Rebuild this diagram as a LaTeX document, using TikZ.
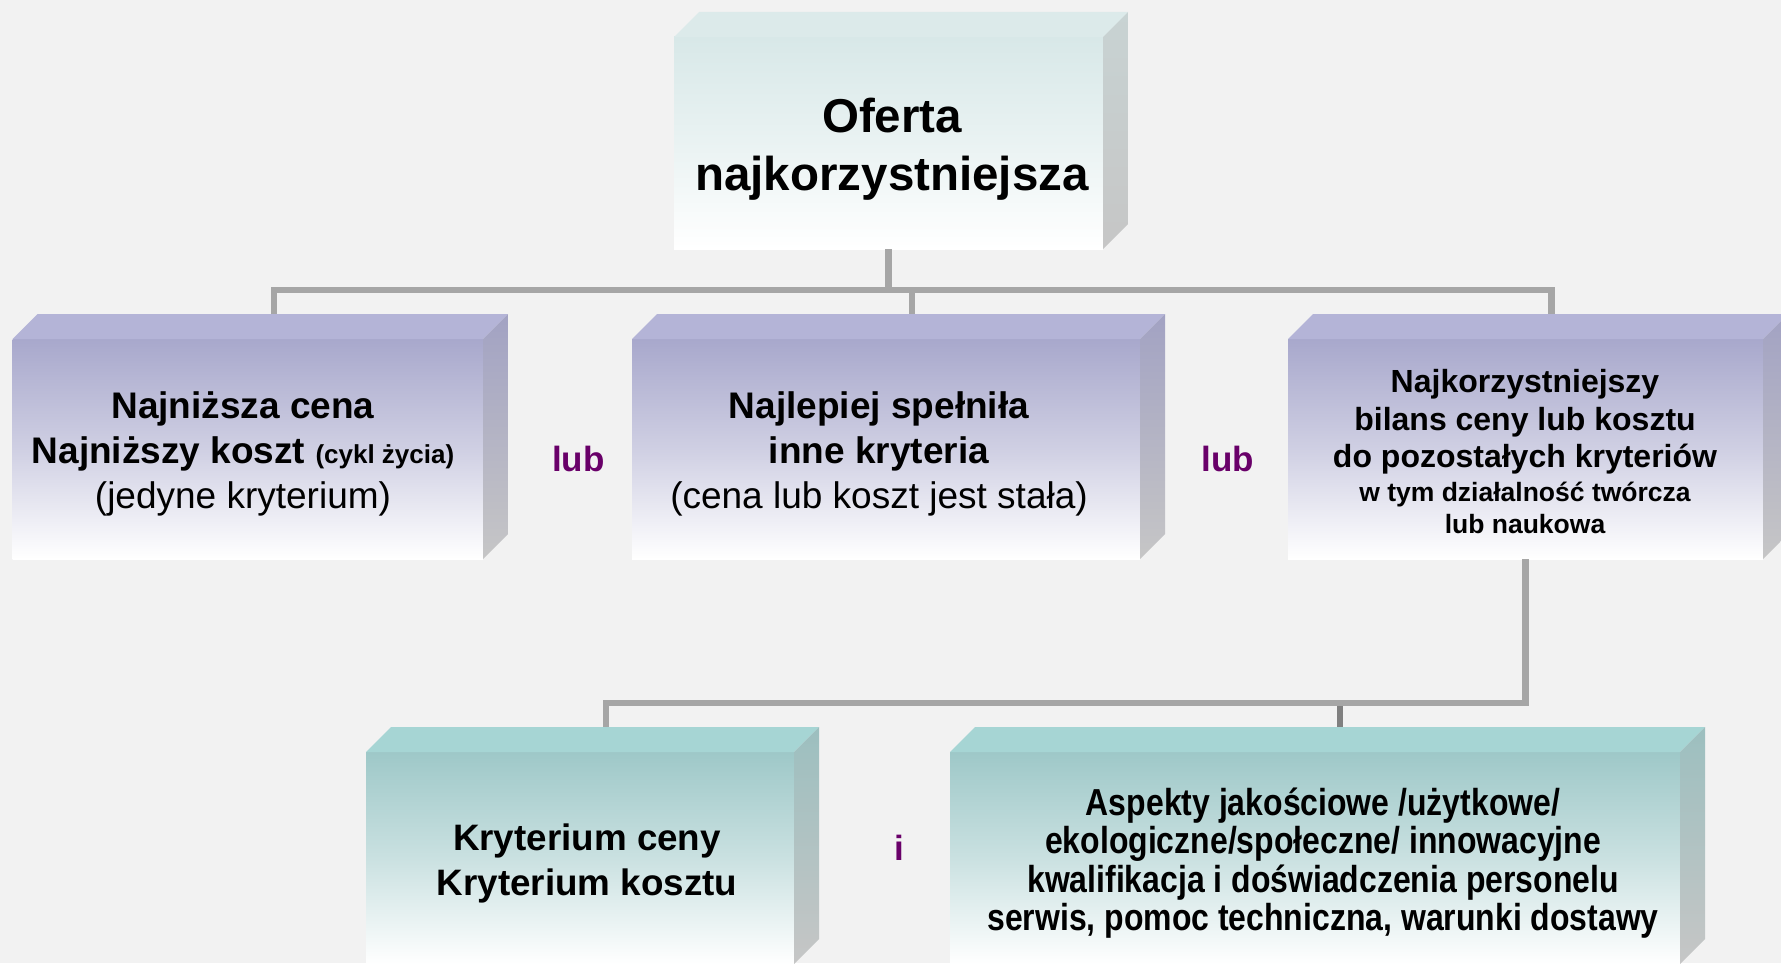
\documentclass[tikz,border=0pt]{standalone}
\usepackage{fontspec}
\setmainfont{Liberation Sans}
\newfontfamily\narrowfont[FakeStretch=0.85]{Liberation Sans}
\usetikzlibrary{calc}
\definecolor{bgc}{HTML}{F2F2F2}
\definecolor{connc}{HTML}{A6A6A6}
\definecolor{conndark}{HTML}{808080}
\definecolor{lubc}{HTML}{690069}
\definecolor{tfront}{HTML}{D8E8E8}
\definecolor{ttopc}{HTML}{DCEAEA}
\definecolor{tside}{HTML}{C8D3D3}
\definecolor{mfront}{HTML}{A8A8CC}
\definecolor{mtop}{HTML}{B4B4D7}
\definecolor{mside}{HTML}{A2A2C3}
\definecolor{bfront}{HTML}{9EC8C8}
\definecolor{btop}{HTML}{A6D5D4}
\definecolor{bside}{HTML}{9CBFBF}
\definecolor{sidebot}{HTML}{C6C6C6}
\newcommand\rowtxt[1]{\smash{#1}}
\newcommand\boxfaces[4]{%
  \fill[#2] (#1.north west) -- ++(25,-25) -- ($(#1.north east)+(25,-25)$) -- (#1.north east) -- cycle;
  \shade[top color=#3,bottom color=#4] (#1.north east) -- ++(25,-25) -- ($(#1.south east)+(25,-25)$) -- (#1.south east) -- cycle;}
\tikzset{
  frontface/.style={rectangle, inner sep=0pt, outer sep=0pt, anchor=north west, draw=none},
  tface/.style={frontface, top color=tfront, bottom color=white, middle color=tfront!55!white},
  mface/.style={frontface, top color=mfront, bottom color=white, middle color=mfront!55!white},
  bface/.style={frontface, top color=bfront, bottom color=white, middle color=bfront!55!white},
  txt/.style={anchor=base, inner sep=0pt, outer sep=0pt},
  conn/.style={draw=connc, line width=3.25pt},
  lubtxt/.style={anchor=base, inner sep=0pt, text=lubc, font=\bfseries\fontsize{17.5}{20}\selectfont}
}
\begin{document}
\begin{tikzpicture}[x=0.5pt,y=-0.5pt]
\useasboundingbox (0,0) rectangle (1781,963);
\clip (0,0) rectangle (1781,963);
\fill[bgc] (0,0) rectangle (1781,963);

% boxes
\node[tface, minimum width=214.5pt, minimum height=106pt] (top) at (674,37) {};
\boxfaces{top}{ttopc}{tside}{sidebot}
\node[mface, minimum width=235.25pt, minimum height=110pt] (b1) at (12.5,339) {};
\boxfaces{b1}{mtop}{mside}{sidebot}
\node[mface, minimum width=254pt, minimum height=110pt] (b2) at (632,339) {};
\boxfaces{b2}{mtop}{mside}{sidebot}
\node[mface, minimum width=237.5pt, minimum height=110pt] (b3) at (1288,339) {};
\boxfaces{b3}{mtop}{mside}{sidebot}
\node[bface, minimum width=214pt, minimum height=106pt] (b4) at (366,752) {};
\boxfaces{b4}{btop}{bside}{sidebot}
\node[bface, minimum width=365pt, minimum height=106pt] (b5) at (950,752) {};
\boxfaces{b5}{btop}{bside}{sidebot}

% connector points
\coordinate (bus1) at ($(top.south)+(0,41)$);
\coordinate (b1t) at ($(b1.north)+(26,-25)$);
\coordinate (b2t) at ($(b2.north)+(26,-25)$);
\coordinate (b3t) at ($(b3.north)+(26,-25)$);
\coordinate (bus2) at ($(b3.south)+(0,144)$);
\coordinate (b4t) at ($(b4.north)+(26,-25)$);
\coordinate (b5t) at ($(b5.north)+(25,-25)$);

\draw[conn] (top.south) -- (bus1);
\draw[conn] (b1t) |- (bus1) -| (b3t);
\draw[conn] (bus1 -| b2t) -- (b2t);
\draw[conn, draw=conndark] (bus2 -| b5t) -- (b5t);
\draw[conn] (b3.south) -- (bus2) -| (b4t);

% texts
\node[txt, font=\bfseries\fontsize{23.75}{28.5}\selectfont] (ttop) at (892,133)
  {\begin{tabular}[t]{@{}c@{}}\rowtxt{Oferta}\\\rowtxt{najkorzystniejsza}\end{tabular}};
\node[txt, font=\fontsize{18.5}{22.5}\selectfont] (tb1) at (243,418)
  {\begin{tabular}[t]{@{}c@{}}\rowtxt{\bfseries Najniższa cena}\\
   \rowtxt{\bfseries Najniższy koszt {\fontsize{13}{15}\selectfont(cykl życia)}}\\
   \rowtxt{(jedyne kryterium)}\end{tabular}};
\node[txt, font=\fontsize{18.5}{22.5}\selectfont] (tb2) at (879,418)
  {\begin{tabular}[t]{@{}c@{}}\rowtxt{\bfseries Najlepiej spełniła}\\
   \rowtxt{\bfseries inne kryteria}\\
   \rowtxt{(cena lub koszt jest stała)}\end{tabular}};
\node[txt, font=\bfseries\fontsize{16}{18.75}\selectfont] (tb3) at (1525,392.5)
  {\begin{tabular}[t]{@{}c@{}}\rowtxt{Najkorzystniejszy}\\
   \rowtxt{bilans ceny lub kosztu}\\
   \rowtxt{do pozostałych kryteriów}\\[-1.75pt]
   \rowtxt{\fontsize{13.25}{16}\selectfont w tym działalność twórcza}\\[-2.75pt]
   \rowtxt{\fontsize{13.25}{16}\selectfont lub naukowa}\end{tabular}};
\node[txt, font=\bfseries\fontsize{18.4}{22.5}\selectfont] (tb4) at (587,850)
  {\begin{tabular}[t]{@{}c@{}}\rowtxt{Kryterium ceny}\\\rowtxt{Kryterium kosztu}\end{tabular}};
\node[txt, font=\narrowfont\bfseries\fontsize{18.8}{19.17}\selectfont] (tb5) at (1323,815.5)
  {\begin{tabular}[t]{@{}c@{}}\rowtxt{Aspekty jakościowe /użytkowe/}\\
   \rowtxt{ekologiczne/społeczne/ innowacyjne}\\
   \rowtxt{kwalifikacja i doświadczenia personelu}\\
   \rowtxt{serwis, pomoc techniczna, warunki dostawy}\end{tabular}};

\node[lubtxt] (lub1) at (578.5,471) {lub};
\node[lubtxt] (lub2) at (1228,471) {lub};
\node[lubtxt] (andi) at (899,860) {i};
\end{tikzpicture}
\end{document}
